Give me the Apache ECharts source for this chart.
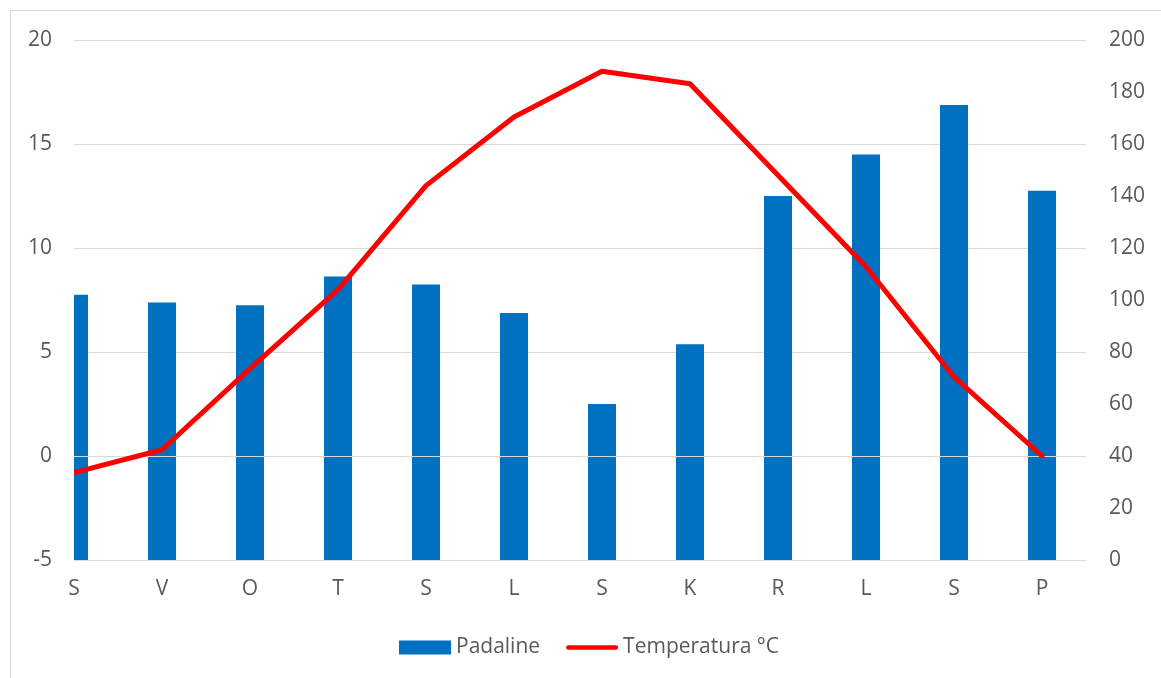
<!DOCTYPE html>
<html>
<head>
<meta charset="utf-8">
<script src="https://cdn.jsdelivr.net/npm/echarts@6/dist/echarts.min.js"></script>
<style>
html,body{margin:0;padding:0;background:#fff;overflow:hidden;}
#frame{position:absolute;left:10px;top:10px;width:1200px;height:720px;border:1px solid #d9d9d9;box-sizing:border-box;}
#chart{position:absolute;left:0;top:0;width:1161px;height:678px;}
</style>
</head>
<body>
<div id="frame"></div>
<div id="chart"></div>
<script>
const categories = ['S','V','O','T','S','L','S','K','R','L','S','P'];
const padaline = [102, 99, 98, 109, 106, 95, 60, 83, 140, 156, 175, 142];
const temperatura = [-0.8, 0.3, 4.2, 8.0, 13.0, 16.3, 18.5, 17.9, 13.5, 9.1, 3.8, 0.0];
const leftTicks = {min: -5, max: 20, interval: 5};
const rightTicks = {min: 0, max: 200, interval: 20};

const font = '"Open Sans", "Noto Sans", sans-serif';
const textColor = '#595959';
const gridColor = '#d9d9d9';

const chart = echarts.init(document.getElementById('chart'), null, {renderer: 'canvas'});
chart.setOption({
  animation: false,
  backgroundColor: 'transparent',
  textStyle: {fontFamily: font},
  grid: {left: 74, right: 75, top: 40, bottom: 118, containLabel: false},
  // white mask hiding the half of the first bar that lies left of the plot area
  graphic: [{
    type: 'rect', z: 100, silent: true,
    shape: {x: 54, y: 36, width: 20, height: 530},
    style: {fill: '#ffffff'}
  }],
  legend: {
    left: 394, top: 632,
    itemWidth: 52, itemHeight: 14, itemGap: 26,
    symbolKeepAspect: true,
    textStyle: {fontFamily: font, fontSize: 21, color: textColor},
    data: [
      {name: 'Padaline', icon: 'rect'},
      {name: 'Temperatura °C', icon: 'path://M2.5,0 L53.5,0 A2.5,2.5 0 0 1 53.5,5 L2.5,5 A2.5,2.5 0 0 1 2.5,0 Z'}
    ]
  },
  xAxis: {
    type: 'value',
    min: 0, max: 11.5, interval: 1,
    axisLine: {show: true, onZero: false, lineStyle: {color: gridColor, width: 1}},
    axisTick: {show: false},
    splitLine: {show: false},
    axisLabel: {
      margin: 19, fontSize: 21, color: textColor, fontFamily: font,
      showMaxLabel: false,
      formatter: function (v) { return Number.isInteger(v) && categories[v] !== undefined ? categories[v] : ''; }
    }
  },
  yAxis: [
    {
      type: 'value', position: 'left',
      min: leftTicks.min, max: leftTicks.max, interval: leftTicks.interval,
      axisLine: {show: false}, axisTick: {show: false},
      splitLine: {show: true, lineStyle: {color: gridColor, width: 1}},
      axisLabel: {margin: 22, fontSize: 21, color: textColor, fontFamily: font}
    },
    {
      type: 'value', position: 'right',
      min: rightTicks.min, max: rightTicks.max, interval: rightTicks.interval,
      axisLine: {show: false}, axisTick: {show: false},
      splitLine: {show: false},
      axisLabel: {margin: 23, fontSize: 21, color: textColor, fontFamily: font}
    }
  ],
  series: [
    {
      name: 'Padaline', type: 'bar', yAxisIndex: 1,
      barWidth: 28, clip: true,
      itemStyle: {color: '#0070C0'},
      data: padaline.map((v, i) => [i, v])
    },
    {
      name: 'Temperatura °C', type: 'line', yAxisIndex: 0,
      z: 10, symbol: 'none', showSymbol: false,
      lineStyle: {color: '#FF0000', width: 5, cap: 'round', join: 'round'},
      itemStyle: {color: '#FF0000'},
      data: temperatura.map((v, i) => [i, v]),
      markLine: {
        silent: true, symbol: 'none', z: 5,
        label: {show: false},
        lineStyle: {color: gridColor, width: 1, type: 'solid'},
        emphasis: {disabled: true},
        data: [{yAxis: 0}]
      }
    }
  ]
});
</script>
</body>
</html>
